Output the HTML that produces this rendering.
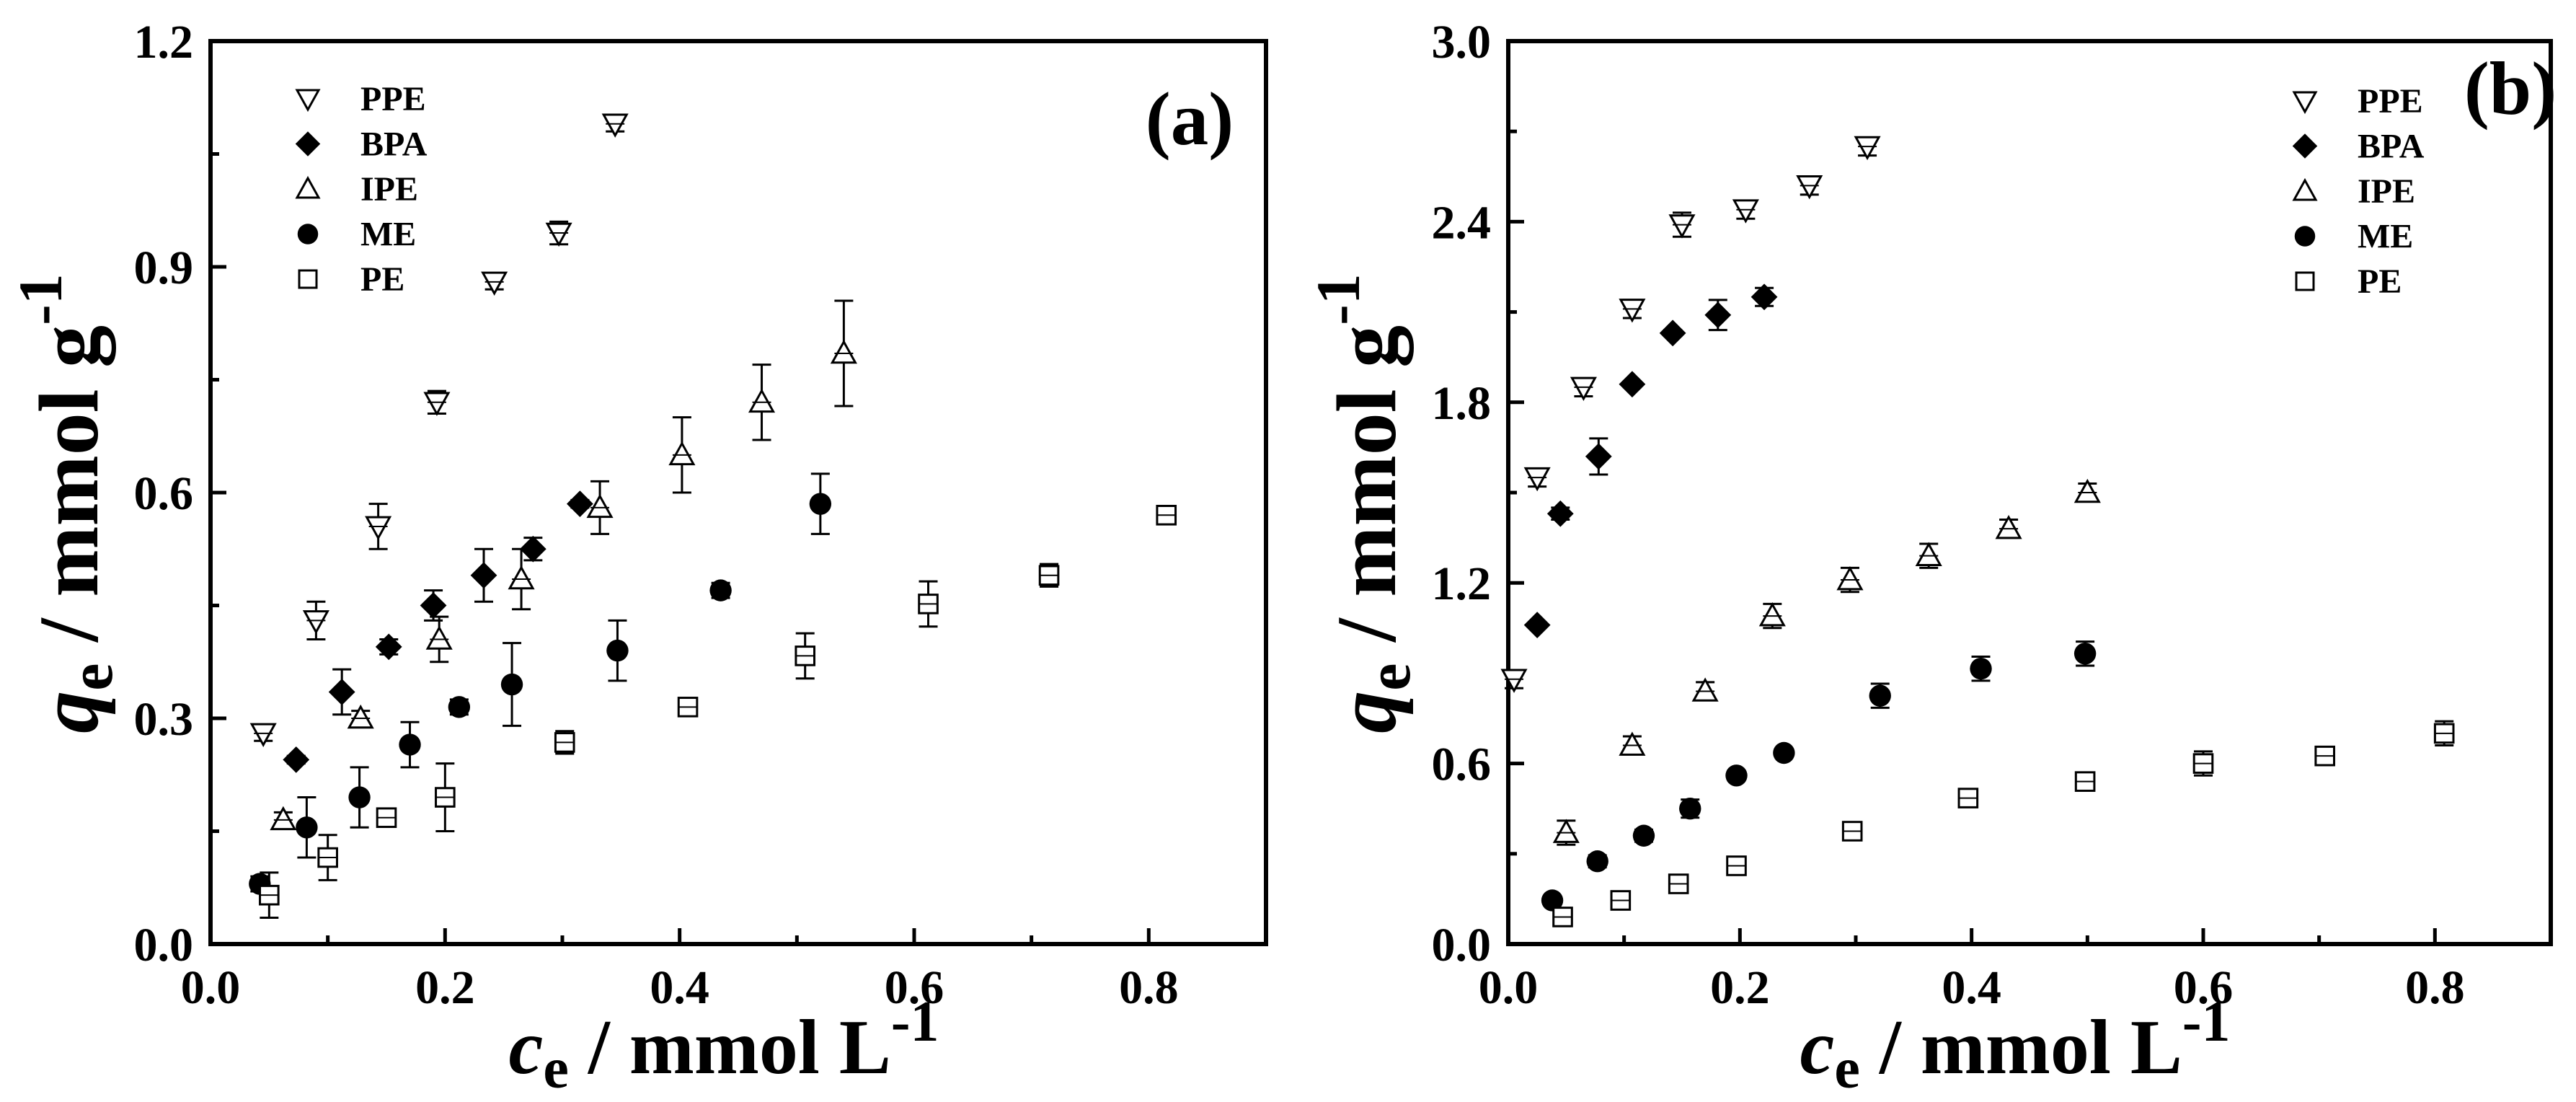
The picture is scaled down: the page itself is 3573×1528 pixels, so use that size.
<!DOCTYPE html>
<html><head><meta charset="utf-8"><style>
html,body{margin:0;padding:0;background:#fff}
svg{display:block}
text{font-family:"Liberation Serif",serif;font-weight:bold;fill:#000}
</style></head><body>
<svg id="chart" width="3573" height="1528" viewBox="0 0 3573 1528" xmlns="http://www.w3.org/2000/svg"></svg>
<script>
const seriesNames = ["PPE","BPA","IPE","ME","PE"];
const seriesShapes = ["tri-down","diamond","tri-up","circle","square"];
// Panel (a)
const aPPEx=[0.045,0.09,0.143,0.193,0.242,0.297,0.345];
const aPPEy=[0.28,0.43,0.555,0.72,0.88,0.945,1.09];
const aPPEe=[0.01,0.025,0.03,0.015,0.01,0.015,0.01];
const aBPAx=[0.073,0.112,0.152,0.19,0.233,0.275,0.315];
const aBPAy=[0.245,0.335,0.395,0.45,0.49,0.525,0.585];
const aBPAe=[0.005,0.03,0.01,0.02,0.035,0.015,0.005];
const aIPEx=[0.062,0.128,0.195,0.265,0.332,0.402,0.47,0.54];
const aIPEy=[0.165,0.30,0.405,0.485,0.58,0.65,0.72,0.785];
const aIPEe=[0.01,0.01,0.03,0.04,0.035,0.05,0.05,0.07];
const aMEx=[0.042,0.082,0.127,0.17,0.212,0.257,0.347,0.435,0.52];
const aMEy=[0.08,0.155,0.195,0.265,0.315,0.345,0.39,0.47,0.585];
const aMEe=[0.01,0.04,0.04,0.03,0.01,0.055,0.04,0.01,0.04];
const aPEx=[0.05,0.1,0.15,0.2,0.302,0.407,0.507,0.612,0.715,0.815];
const aPEy=[0.065,0.115,0.168,0.195,0.268,0.315,0.383,0.452,0.49,0.57];
const aPEe=[0.03,0.03,0.01,0.045,0.015,0.005,0.03,0.03,0.015,0.005];
// Panel (b)
const bPPEx=[0.005,0.025,0.065,0.107,0.15,0.205,0.26,0.31];
const bPPEy=[0.88,1.55,1.85,2.11,2.39,2.44,2.52,2.65];
const bPPEe=[0.03,0.03,0.03,0.03,0.04,0.03,0.03,0.03];
const bBPAx=[0.025,0.045,0.078,0.107,0.142,0.181,0.221];
const bBPAy=[1.06,1.43,1.62,1.86,2.03,2.09,2.15];
const bBPAe=[0.01,0.02,0.06,0.01,0.01,0.05,0.03];
const bIPEx=[0.05,0.107,0.17,0.228,0.295,0.363,0.432,0.5];
const bIPEy=[0.37,0.66,0.84,1.09,1.21,1.29,1.38,1.5];
const bIPEe=[0.04,0.03,0.03,0.04,0.04,0.04,0.03,0.03];
const bMEx=[0.038,0.077,0.117,0.157,0.197,0.238,0.321,0.408,0.498];
const bMEy=[0.145,0.275,0.36,0.45,0.56,0.635,0.825,0.915,0.965];
const bMEe=[0.01,0.02,0.02,0.03,0.01,0.01,0.04,0.04,0.04];
const bPEx=[0.047,0.097,0.147,0.197,0.297,0.397,0.498,0.6,0.705,0.808];
const bPEy=[0.09,0.145,0.2,0.26,0.375,0.485,0.54,0.6,0.625,0.7];
const bPEe=[0.02,0.02,0.02,0.03,0.02,0.02,0.03,0.04,0.02,0.04];
const aXTicks=["0.0","0.2","0.4","0.6","0.8"];
const aYTicks=["0.0","0.3","0.6","0.9","1.2"];
const bXTicks=["0.0","0.2","0.4","0.6","0.8"];
const bYTicks=["0.0","0.6","1.2","1.8","2.4","3.0"];

const NS="http://www.w3.org/2000/svg";
const svg=document.getElementById('chart');
function mk(tag,attrs,parent){const e=document.createElementNS(NS,tag);for(const k in attrs)e.setAttribute(k,attrs[k]);(parent||svg).appendChild(e);return e;}

function marker(g,shape,cx,cy,s){
  let e;
  if(shape==="tri-down") e=mk('polygon',{points:`${cx-s},${cy-s*0.8} ${cx+s},${cy-s*0.8} ${cx},${cy+s}`,fill:'#fff',stroke:'#000','stroke-width':3},g);
  else if(shape==="tri-up") e=mk('polygon',{points:`${cx-s},${cy+s*0.8} ${cx+s},${cy+s*0.8} ${cx},${cy-s}`,fill:'#fff',stroke:'#000','stroke-width':3},g);
  else if(shape==="diamond") e=mk('polygon',{points:`${cx},${cy-s*1.15} ${cx+s*1.15},${cy} ${cx},${cy+s*1.15} ${cx-s*1.15},${cy}`,fill:'#000'},g);
  else if(shape==="circle") e=mk('circle',{cx:cx,cy:cy,r:s*0.95,fill:'#000'},g);
  else e=mk('rect',{x:cx-s*0.8,y:cy-s*0.8,width:s*1.6,height:s*1.6,fill:'#fff',stroke:'#000','stroke-width':3},g);
  return e;
}

function panel(cfg){
  const {L,R,T,B,xmax,ymax,xTicks,yTicks,xMinor,yMinor,series,tag,legX,legY,tagX,tagY,ytX,id}=cfg;
  const X=v=>L+(R-L)*v/xmax, Y=v=>B-(B-T)*v/ymax;
  const g=mk('g',{});
  
  
  for(let i=0;i<=xMinor;i++){const v=xmax*i/xMinor;const major=(i%2===0);
    mk('line',{x1:X(v),x2:X(v),y1:B,y2:B-(major?22:12),stroke:'#000','stroke-width':5},g);}
  xTicks.forEach((t,i)=>{const v=parseFloat(t);const e=mk('text',{x:X(v),y:B+82,'font-size':66,'text-anchor':'middle'},g);e.textContent=t;
    });
  for(let i=0;i<=yMinor;i++){const v=ymax*i/yMinor;const major=(i%2===0);
    mk('line',{x1:L,x2:L+(major?22:12),y1:Y(v),y2:Y(v),stroke:'#000','stroke-width':5},g);}
  yTicks.forEach((t,i)=>{const v=parseFloat(t);const e=mk('text',{x:L-24,y:Y(v)+23,'font-size':66,'text-anchor':'end'},g);e.textContent=t;
    });
  const fr=mk('rect',{x:L,y:T,width:R-L,height:B-T,fill:'none',stroke:'#000','stroke-width':6},g);
  
  
  series.forEach((s,si)=>{
    const sg=mk('g',{},g);
    
    
    s.x.forEach((xv,i)=>{
      const cx=X(xv),cy=Y(s.y[i]),e=s.e[i];
      mk('line',{x1:cx,x2:cx,y1:Y(s.y[i]+e),y2:Y(s.y[i]-e),stroke:'#000','stroke-width':3},sg);
      mk('line',{x1:cx-13,x2:cx+13,y1:Y(s.y[i]+e),y2:Y(s.y[i]+e),stroke:'#000','stroke-width':3},sg);
      mk('line',{x1:cx-13,x2:cx+13,y1:Y(s.y[i]-e),y2:Y(s.y[i]-e),stroke:'#000','stroke-width':3},sg);
      const m=marker(sg,seriesShapes[si],cx,cy,16);
      
      
      mk('line',{x1:cx-13,x2:cx+13,y1:cy,y2:cy,stroke:'#000','stroke-width':2},sg);
    });
  });
  const lg=mk('g',{},g);
  
  
  seriesNames.forEach((n,i)=>{
    const y=legY+i*62.5;
    const m=marker(lg,seriesShapes[i],legX,y,15);
    
    
    const t=mk('text',{x:legX+73,y:y+16,'font-size':48},lg);t.textContent=n;
    
    
  });
  const tg=mk('text',{x:tagX,y:tagY,'font-size':105,'text-anchor':'middle'},g);tg.textContent=tag;
  
  
  const yt=mk('text',{transform:`translate(${ytX},${(T+B)/2+15}) rotate(-90)`,'text-anchor':'middle','font-size':118},g);
  yt.innerHTML='<tspan font-style="italic">q</tspan><tspan font-size="86" dy="20">e</tspan><tspan dy="-20"> / mmol g</tspan><tspan font-size="86" dy="-50">-1</tspan>';
  
  
  const xt=mk('text',{x:(L+R)/2-20,y:1488,'text-anchor':'middle','font-size':108},g);
  xt.innerHTML='<tspan font-style="italic">c</tspan><tspan font-size="80" dy="20">e</tspan><tspan dy="-20"> / mmol L</tspan><tspan font-size="80" dy="-45">-1</tspan>';
  
  
}

panel({id:'a',L:292,R:1756,T:57,B:1309,xmax:0.9,ymax:1.2,xTicks:aXTicks,yTicks:aYTicks,xMinor:9,yMinor:8,
  series:[{x:aPPEx,y:aPPEy,e:aPPEe},{x:aBPAx,y:aBPAy,e:aBPAe},{x:aIPEx,y:aIPEy,e:aIPEe},{x:aMEx,y:aMEy,e:aMEe},{x:aPEx,y:aPEy,e:aPEe}],
  tag:'(a)',legX:427,legY:137,tagX:1650,tagY:200,ytX:135});
panel({id:'b',L:2092,R:3538,T:57,B:1309,xmax:0.9,ymax:3.0,xTicks:bXTicks,yTicks:bYTicks,xMinor:9,yMinor:10,
  series:[{x:bPPEx,y:bPPEy,e:bPPEe},{x:bBPAx,y:bBPAy,e:bBPAe},{x:bIPEx,y:bIPEy,e:bIPEe},{x:bMEx,y:bMEy,e:bMEe},{x:bPEx,y:bPEy,e:bPEe}],
  tag:'(b)',legX:3197,legY:140,tagX:3482,tagY:158,ytX:1935});
</script>
</body></html>
